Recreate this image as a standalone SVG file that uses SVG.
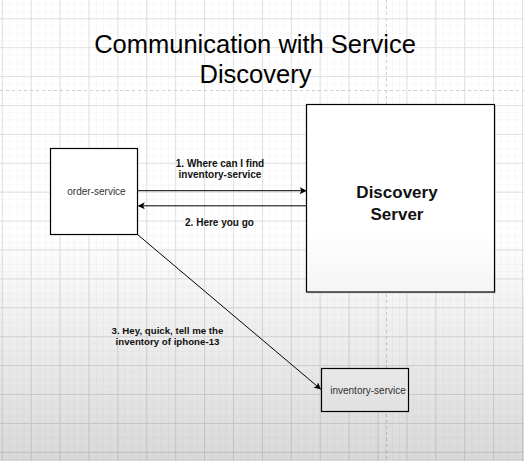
<svg xmlns="http://www.w3.org/2000/svg" width="524" height="461" viewBox="0 0 524 461">
  <defs>
    <pattern id="minor" x="1.8" y="18.3" width="7.225" height="7.225" patternUnits="userSpaceOnUse">
      <path d="M0 0 V7.225 M0 0 H7.225" fill="none" stroke="#f1f1f1" stroke-width="1"/>
    </pattern>
    <pattern id="major" x="1.8" y="18.3" width="28.9" height="28.9" patternUnits="userSpaceOnUse">
      <path d="M0.5 0 V28.9 M0 0.5 H28.9" fill="none" stroke="#e0e0e0" stroke-width="1"/>
    </pattern>
    <linearGradient id="shade" x1="0" y1="0" x2="0" y2="1">
      <stop offset="0" stop-color="#000" stop-opacity="0"/>
      <stop offset="0.5" stop-color="#000" stop-opacity="0"/>
      <stop offset="1" stop-color="#000" stop-opacity="0.15"/>
    </linearGradient>
    <marker id="arrow" viewBox="0 0 10 10" refX="9" refY="5" markerWidth="7" markerHeight="7" markerUnits="userSpaceOnUse" orient="auto">
      <path d="M0 0 L10 5 L0 10 L2.5 5 Z" fill="#000"/>
    </marker>
    <style>
      .box { fill: #fff; stroke: #000; stroke-width: 1.2; }
      .lbl { font-family: "Liberation Sans", Arial, sans-serif; font-size: 10px; font-weight: bold; fill: #111; text-anchor: middle; }
      .big { font-size: 17px; }
      .sm { font-size: 9.7px; }
      .svc { font-family: "Liberation Sans", Arial, sans-serif; font-size: 10px; fill: #333; text-anchor: middle; }
      .edge { stroke: #000; stroke-width: 1; fill: none; marker-end: url(#arrow); }
      .page { stroke: #cfcfcf; stroke-width: 1; stroke-dasharray: 3 3; fill: none; }
    </style>
  </defs>

  <rect width="524" height="461" fill="#fff"/>
  <rect width="524" height="461" fill="url(#minor)"/>
  <rect width="524" height="461" fill="url(#major)"/>
  <path class="page" d="M0 90.5 H524 M386.5 0 V461"/>

  <g id="title">
    <text x="255" y="52.5" font-family="Liberation Sans, Arial, sans-serif" font-size="25.5" fill="#000" text-anchor="middle">Communication with Service</text>
    <text x="255.5" y="83" font-family="Liberation Sans, Arial, sans-serif" font-size="25.5" fill="#000" text-anchor="middle">Discovery</text>
  </g>

  <g id="order-service">
    <rect class="box" x="50.5" y="148.5" width="87" height="86"/>
    <text class="svc" x="96.5" y="195">order-service</text>
  </g>

  <g id="discovery-server">
    <rect x="308" y="106" width="188" height="187.5" fill="#bbb" opacity="0.4"/>
    <rect class="box" x="306.5" y="104.5" width="188" height="187.5"/>
    <text class="lbl big" x="397" y="198">Discovery</text>
    <text class="lbl big" x="397" y="219.5">Server</text>
  </g>

  <g id="inventory-service">
    <rect class="box" x="321.5" y="368.5" width="87" height="43"/>
    <text class="svc" x="368" y="394">inventory-service</text>
  </g>

  <g id="connectors">
    <path class="edge" d="M137.5 190.7 H306"/>
    <path class="edge" d="M306.5 205.8 H138.5"/>
    <path class="edge" d="M137.5 234.5 L320.5 389"/>
    <text class="lbl" x="220" y="167.3">1. Where can I find</text>
    <text class="lbl" x="220" y="178">inventory-service</text>
    <text class="lbl" x="219.5" y="226">2. Here you go</text>
    <text class="lbl sm" x="167.5" y="333.7">3. Hey, quick, tell me the</text>
    <text class="lbl sm" x="167.5" y="345">inventory of iphone-13</text>
  </g>

  <rect width="524" height="461" fill="url(#shade)" pointer-events="none"/>
</svg>
